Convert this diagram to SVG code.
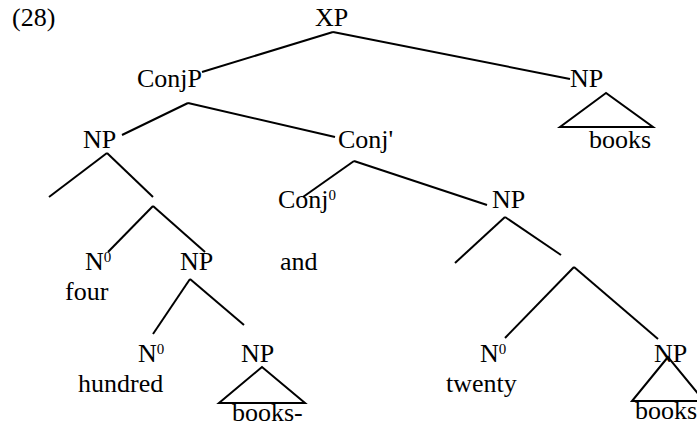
<svg xmlns="http://www.w3.org/2000/svg" width="697" height="428" viewBox="0 0 697 428">
<style>
.t{font-size:26px;fill:#000}
.sup{font-size:15px}
line,polygon{stroke:#000;stroke-width:2;fill:none}
</style>
<rect width="697" height="428" fill="#fff"/>
<g font-family="Liberation Serif, DejaVu Serif, serif">
<text class="t" x="12" y="26">(28)</text>
<g id="XP"><text class="t" x="315" y="26">XP</text></g>
<g id="ConjP"><text class="t" x="137" y="87">ConjP</text></g>
<g id="NP_top"><text class="t" x="570" y="87">NP</text><polygon points="606,93 560,127 653,127"/><text class="t" x="589" y="148">books</text></g>
<g id="NP_left"><text class="t" x="83" y="148">NP</text></g>
<g id="ConjBar"><text class="t" x="338" y="148">Conj'</text></g>
<g id="N0_four"><text class="t" x="85" y="270">N<tspan class="sup" dy="-8">0</tspan></text><text class="t" x="65" y="300">four</text></g>
<g id="NP_mid"><text class="t" x="180" y="270">NP</text></g>
<g id="and"><text class="t" x="280" y="270">and</text></g>
<g id="Conj0"><text class="t" x="278" y="208">Conj<tspan class="sup" dy="-8">0</tspan></text></g>
<g id="NP_right"><text class="t" x="492" y="208">NP</text></g>
<g id="N0_hundred"><text class="t" x="138" y="362">N<tspan class="sup" dy="-8">0</tspan></text><text class="t" x="78" y="392">hundred</text></g>
<g id="NP_books1"><text class="t" x="241" y="362">NP</text><polygon points="262,367 219,403 305,403"/><text class="t" x="232" y="421">books-</text></g>
<g id="N0_twenty"><text class="t" x="480" y="362">N<tspan class="sup" dy="-8">0</tspan></text><text class="t" x="446" y="392">twenty</text></g>
<g id="NP_books2"><text class="t" x="654" y="362">NP</text><polygon points="668,357 632,401 704,401"/><text class="t" x="635" y="419">books</text></g>
</g>
<g id="connectors">
<line x1="333" y1="32" x2="202" y2="72"/>
<line x1="333" y1="32" x2="570" y2="79"/>
<line x1="188" y1="103" x2="122" y2="135"/>
<line x1="188" y1="103" x2="335" y2="137"/>
<line x1="107" y1="153" x2="49" y2="197"/>
<line x1="107" y1="153" x2="153" y2="197"/>
<line x1="153" y1="206" x2="108" y2="252"/>
<line x1="153" y1="206" x2="205" y2="252"/>
<line x1="190" y1="279" x2="153" y2="334"/>
<line x1="190" y1="279" x2="244" y2="325"/>
<line x1="354" y1="161" x2="303" y2="197"/>
<line x1="354" y1="161" x2="487" y2="205"/>
<line x1="505" y1="217" x2="455" y2="263"/>
<line x1="505" y1="217" x2="561" y2="255"/>
<line x1="574" y1="267" x2="505" y2="338"/>
<line x1="574" y1="267" x2="658" y2="339"/>
</g>
</svg>
